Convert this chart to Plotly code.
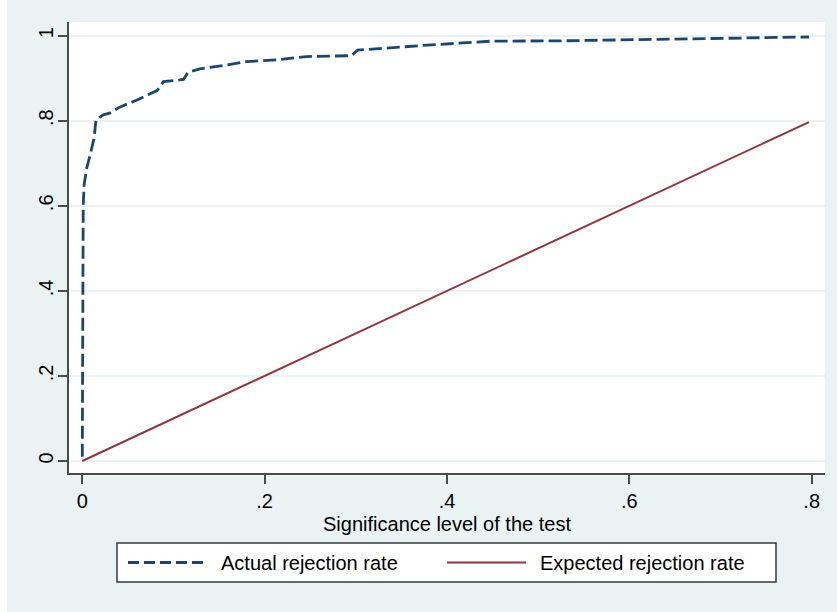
import plotly.graph_objects as go

# ---- data ----
sig_level = [0.0, 0.001, 0.002, 0.005, 0.009, 0.013, 0.015, 0.023, 0.030, 0.041,
             0.060, 0.082, 0.089, 0.111, 0.116, 0.129, 0.158, 0.180, 0.213, 0.246,
             0.295, 0.302, 0.373, 0.427, 0.447, 0.528, 0.606, 0.684, 0.797]
actual_rate = [0.01, 0.60, 0.65, 0.69, 0.723, 0.76, 0.802, 0.814, 0.818, 0.832,
               0.849, 0.871, 0.892, 0.897, 0.914, 0.922, 0.931, 0.939, 0.943, 0.951,
               0.953, 0.966, 0.977, 0.984, 0.987, 0.988, 0.991, 0.993, 0.997]
expected_x = [0.0, 0.797]
expected_rate = [0.0, 0.797]

x_tickvals = [0, 0.2, 0.4, 0.6, 0.8]
x_ticktext = ["0", ".2", ".4", ".6", ".8"]
y_tickvals = [0, 0.2, 0.4, 0.6, 0.8, 1.0]
y_ticktext = ["0", ".2", ".4", ".6", ".8", "1"]

series_names = ["Actual rejection rate", "Expected rejection rate"]
x_title = "Significance level of the test"

# ---- style ----
W, H = 837, 612
L, R, T, B = 69, 825, 22, 473  # plot area pixel box
BG = "#EAF2F3"
NAVY = "#1A476F"
MAROON = "#90353B"
AXIS = "#4a4a4a"
FONT = "Liberation Sans, Arial, sans-serif"

def px_x(p):
    return (p - L) / (R - L)

def px_y(p):
    return (B - p) / (B - T)

fig = go.Figure()
fig.add_trace(go.Scatter(x=sig_level, y=actual_rate, mode="lines", name=series_names[0],
                         line=dict(color=NAVY, width=2.8, dash="13px,5px"),
                         showlegend=False, hoverinfo="x+y"))
fig.add_trace(go.Scatter(x=expected_x, y=expected_rate, mode="lines", name=series_names[1],
                         line=dict(color=MAROON, width=2),
                         showlegend=False, hoverinfo="x+y"))

shapes = []
annotations = []
# white strip at the far left of the image
shapes.append(dict(type="rect", xref="paper", yref="paper",
                   x0=px_x(0), x1=px_x(7), y0=px_y(H), y1=px_y(0),
                   fillcolor="white", line=dict(width=0), layer="below"))
# legend box
lx0, lx1, ly0, ly1 = 117, 776, 543, 582
ymid = 562.5
shapes.append(dict(type="rect", xref="paper", yref="paper",
                   x0=px_x(lx0), x1=px_x(lx1), y0=px_y(ly1), y1=px_y(ly0),
                   fillcolor="white", line=dict(color="#3a3a3a", width=1.5)))
shapes.append(dict(type="line", xref="paper", yref="paper",
                   x0=px_x(128), x1=px_x(208), y0=px_y(ymid), y1=px_y(ymid),
                   line=dict(color=NAVY, width=2.8, dash="11px,5px")))
shapes.append(dict(type="line", xref="paper", yref="paper",
                   x0=px_x(447), x1=px_x(526), y0=px_y(ymid), y1=px_y(ymid),
                   line=dict(color=MAROON, width=2)))
annotations.append(dict(text=series_names[0], xref="paper", yref="paper",
                        x=px_x(219), y=px_y(ymid), xanchor="left", yanchor="middle",
                        showarrow=False, font=dict(family=FONT, size=20, color="black")))
annotations.append(dict(text=series_names[1], xref="paper", yref="paper",
                        x=px_x(538), y=px_y(ymid), xanchor="left", yanchor="middle",
                        showarrow=False, font=dict(family=FONT, size=20, color="black")))

# axis ranges from pixel calibration
x_per_px = 0.8 / (811.7 - 82.3)
y_per_px = 1.0 / (461.0 - 35.7)
x_range = [(L - 82.3) * x_per_px, (R - 82.3) * x_per_px]
y_range = [-(B - 461.0) * y_per_px, 1.0 + (35.7 - T) * y_per_px]

fig.update_layout(
    width=W, height=H,
    margin=dict(l=L, r=W - R, t=T, b=H - B, pad=0),
    paper_bgcolor=BG,
    plot_bgcolor="white",
    font=dict(family=FONT, size=20, color="black"),
    shapes=shapes,
    annotations=annotations,
    xaxis=dict(range=x_range, tickvals=x_tickvals, ticktext=x_ticktext,
               showgrid=False, zeroline=False, showline=True, linecolor=AXIS, linewidth=1.5,
               ticks="outside", ticklen=9, tickwidth=1.5, tickcolor=AXIS,
               tickfont=dict(size=20), fixedrange=True,
               title=dict(text=x_title, font=dict(size=20), standoff=6)),
    yaxis=dict(range=y_range, tickvals=y_tickvals, ticktext=y_ticktext,
               showgrid=True, gridcolor=BG, gridwidth=1.5, zeroline=False,
               showline=True, linecolor=AXIS, linewidth=1.5,
               ticks="outside", ticklen=9, tickwidth=1.5, tickcolor=AXIS,
               tickangle=-90, tickfont=dict(size=20), fixedrange=True,
               ticklabelstandoff=-3),
)

fig.write_html("out.html", config={"displayModeBar": False},
               post_script="document.body.style.margin='0';")
